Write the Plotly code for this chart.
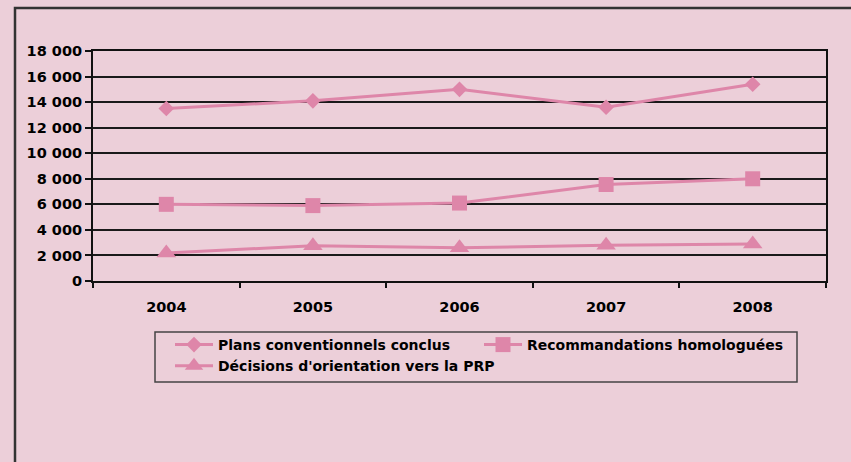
import plotly.graph_objects as go

years = ["2004", "2005", "2006", "2007", "2008"]
plans = [13500, 14100, 15000, 13600, 15400]
recommandations = [6000, 5900, 6100, 7550, 8000]
decisions = [2200, 2750, 2600, 2800, 2900]
y_ticks = [0, 2000, 4000, 6000, 8000, 10000, 12000, 14000, 16000, 18000]
y_labels = ["0", "2 000", "4 000", "6 000", "8 000", "10 000", "12 000", "14 000", "16 000", "18 000"]

bg = "#ECCFD9"
pink = "#DE86A9"
font = dict(family="DejaVu Sans, Arial", size=14.5, color="black", weight="bold")
legend_font = dict(font, size=14)

fig = go.Figure()
series = [
    ("Plans conventionnels conclus", plans, "diamond", 12),
    ("Recommandations homologuées", recommandations, "square", 15),
    ("Décisions d'orientation vers la PRP", decisions, "triangle-up", 17),
]
for name, vals, sym, size in series:
    fig.add_trace(go.Scatter(
        x=years, y=vals, name=name, mode="lines+markers",
        line=dict(color=pink, width=3),
        marker=dict(symbol=sym, size=size, color=pink),
    ))

# plot area in pixels: x 93..826, y 51..281
W, H = 733, 230
def px(x):
    return (x - 93) / W
def py(y):
    return (281 - y) / H

fig.update_layout(
    width=851, height=462,
    margin=dict(l=93, r=25, t=51, b=181),
    paper_bgcolor=bg, plot_bgcolor=bg,
    font=font,
    showlegend=True,
    legend=dict(
        orientation="h", x=px(170), y=py(329), xanchor="left", yanchor="top",
        bgcolor="rgba(0,0,0,0)", borderwidth=0, font=legend_font,
        entrywidth=256, itemwidth=38, tracegroupgap=0,
    ),
    shapes=[
        dict(type="rect", xref="paper", yref="paper",
             x0=px(15), x1=px(870), y0=py(480), y1=py(8),
             line=dict(color="#333333", width=2.5)),
        dict(type="rect", xref="paper", yref="paper",
             x0=px(155), x1=px(797), y0=py(382), y1=py(332),
             line=dict(color="#444444", width=1.5)),
    ],
)
fig.update_xaxes(
    type="category", range=[-0.5, 4.5], showgrid=False,
    showline=True, linecolor="#111111", linewidth=2, mirror=True,
    ticks="outside", tickson="boundaries", ticklen=5, tickwidth=2, tickcolor="#111111",
    ticklabelstandoff=12, tickfont=font,
)
fig.update_yaxes(
    range=[0, 18000], tickvals=y_ticks, ticktext=y_labels,
    showgrid=True, gridcolor="#1a1a1a", gridwidth=1.5, zeroline=False,
    showline=True, linecolor="#111111", linewidth=2, mirror=True,
    ticks="outside", ticklen=6, tickwidth=2, tickcolor="#111111",
    tickfont=font,
)

fig.write_html(
    "out.html",
    config={"displayModeBar": False},
    post_script="document.body.style.margin='0';",
)
